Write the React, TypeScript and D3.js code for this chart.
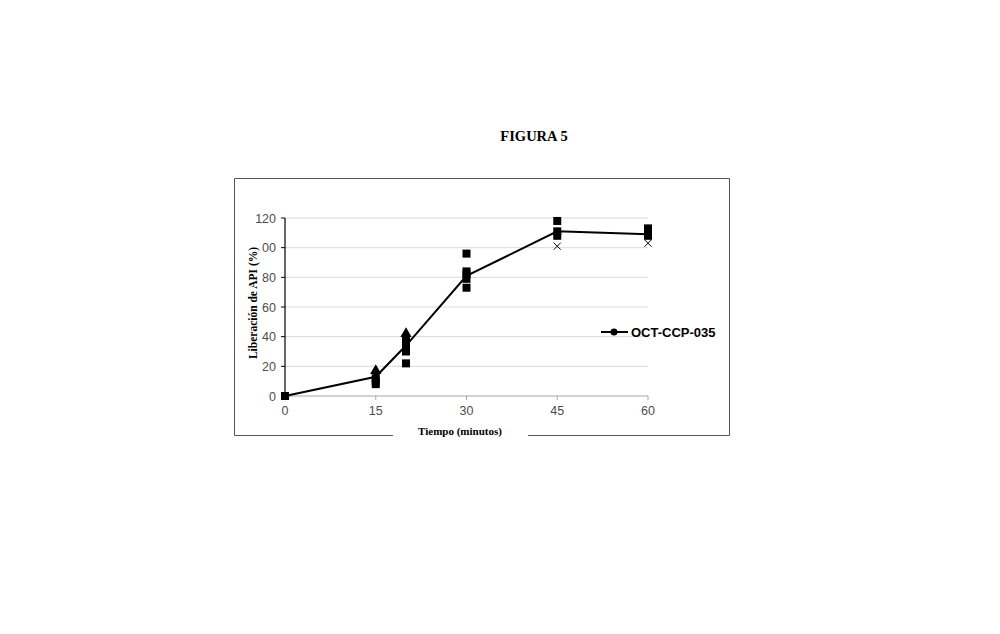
import React from "react";
import * as d3 from "d3";

const timePoints = [0, 15, 20, 30, 45, 60];
const meanValues = [0, 13, 34, 81, 111, 109];
const squareTimes = [0, 15, 15, 15, 20, 20, 20, 20, 20, 30, 30, 30, 30, 30, 45, 45, 45, 60, 60, 60];
const squareValues = [0, 8, 10, 12, 22, 30, 33, 36, 38, 73, 79, 82, 84, 96, 108, 111, 118, 108, 110, 113];
const triangleTimes = [15, 20];
const triangleValues = [17, 42];
const crossTimes = [45, 60];
const crossValues = [101, 103];
const yTicks = [0, 20, 40, 60, 80, 100, 120];
const yTickLabels = ["0", "20", "40", "60", "80", "00", "120"];
const xTicks = [0, 15, 30, 45, 60];
const xTickLabels = ["0", "15", "30", "45", "60"];
const seriesName = "OCT-CCP-035";

export default function App() {
  const x = d3.scaleLinear().domain([0, 60]).range([285, 648]);
  const y = d3.scaleLinear().domain([0, 120]).range([396, 218]);
  const line = d3
    .line<number>()
    .x((_, i) => x(timePoints[i]))
    .y((d) => y(d));
  const tri = d3.symbol().type(d3.symbolTriangle).size(55)() as string;
  const serif = "'Liberation Serif', 'DejaVu Serif', serif";
  const sans = "'Liberation Sans', Arial, sans-serif";
  return (
    <svg
      width={1000}
      height={634}
      style={{ position: "absolute", left: 0, top: 0, background: "#fff" }}
    >
      <text x={534} y={141} textAnchor="middle" fontFamily={serif} fontWeight="bold" fontSize={14.5}>
        FIGURA 5
      </text>
      {/* frame */}
      <g stroke="#555" strokeWidth={1} fill="none">
        <line x1={234.5} y1={178.5} x2={729.5} y2={178.5} />
        <line x1={234.5} y1={178.5} x2={234.5} y2={435.5} />
        <line x1={729.5} y1={178.5} x2={729.5} y2={435.5} />
        <line x1={234.5} y1={435.5} x2={393} y2={435.5} />
        <line x1={528} y1={435.5} x2={729.5} y2={435.5} />
      </g>
      {/* gridlines */}
      {yTicks.slice(1).map((t) => (
        <line key={"g" + t} x1={x(0)} x2={x(60)} y1={y(t)} y2={y(t)} stroke="#d9d9d9" strokeWidth={1} />
      ))}
      {/* x axis */}
      <line x1={x(0)} x2={x(60)} y1={y(0)} y2={y(0)} stroke="#a6a6a6" strokeWidth={1} />
      {xTicks.map((t, i) => (
        <g key={"x" + t}>
          <line x1={x(t)} x2={x(t)} y1={y(0)} y2={y(0) + 4} stroke="#a6a6a6" />
          <text x={x(t)} y={y(0) + 19} textAnchor="middle" fontFamily={sans} fontSize={12.5} fill="#4d4d4d">
            {xTickLabels[i]}
          </text>
        </g>
      ))}
      {/* y axis */}
      <line x1={x(0)} x2={x(0)} y1={y(120)} y2={y(0)} stroke="#000" strokeWidth={1.2} />
      {yTicks.map((t, i) => (
        <g key={"y" + t}>
          <line x1={x(0) - 4} x2={x(0)} y1={y(t)} y2={y(t)} stroke="#000" />
          <text x={x(0) - 9} y={y(t) + 4.5} textAnchor="end" fontFamily={sans} fontSize={12.5} fill="#4d4d4d">
            {yTickLabels[i]}
          </text>
        </g>
      ))}
      <text
        transform={`translate(257,${(y(0) + y(120)) / 2 - 4}) rotate(-90)`}
        textAnchor="middle"
        fontFamily={serif}
        fontWeight="bold"
        fontSize={11.5}
      >
        Liberación de API (%)
      </text>
      <text x={460} y={435} textAnchor="middle" fontFamily={serif} fontWeight="bold" fontSize={11}>
        Tiempo (minutos)
      </text>
      {/* triangles */}
      {triangleValues.map((v, i) => (
        <path key={"t" + i} d={tri} transform={`translate(${x(triangleTimes[i])},${y(v)})`} fill="#000" />
      ))}
      {/* squares */}
      {squareValues.map((v, i) => (
        <rect key={"s" + i} x={x(squareTimes[i]) - 4} y={y(v) - 4} width={8} height={8} fill="#000" />
      ))}
      {/* crosses */}
      {crossValues.map((v, i) => {
        const cx = x(crossTimes[i]);
        const cy = y(v);
        return (
          <g key={"c" + i} stroke="#000" strokeWidth={1}>
            <line x1={cx - 3.5} y1={cy - 3.5} x2={cx + 3.5} y2={cy + 3.5} />
            <line x1={cx - 3.5} y1={cy + 3.5} x2={cx + 3.5} y2={cy - 3.5} />
          </g>
        );
      })}
      {/* mean line */}
      <path d={line(meanValues) as string} fill="none" stroke="#000" strokeWidth={2} />
      {meanValues.map((v, i) => (
        <circle key={"m" + i} cx={x(timePoints[i])} cy={y(v)} r={3} fill="#000" />
      ))}
      {/* legend */}
      <line x1={601} x2={628} y1={332} y2={332} stroke="#000" strokeWidth={2} />
      <circle cx={614} cy={332} r={3.5} fill="#000" />
      <text x={631} y={337} fontFamily={sans} fontWeight="bold" fontSize={13} fill="#000">
        {seriesName}
      </text>
    </svg>
  );
}
